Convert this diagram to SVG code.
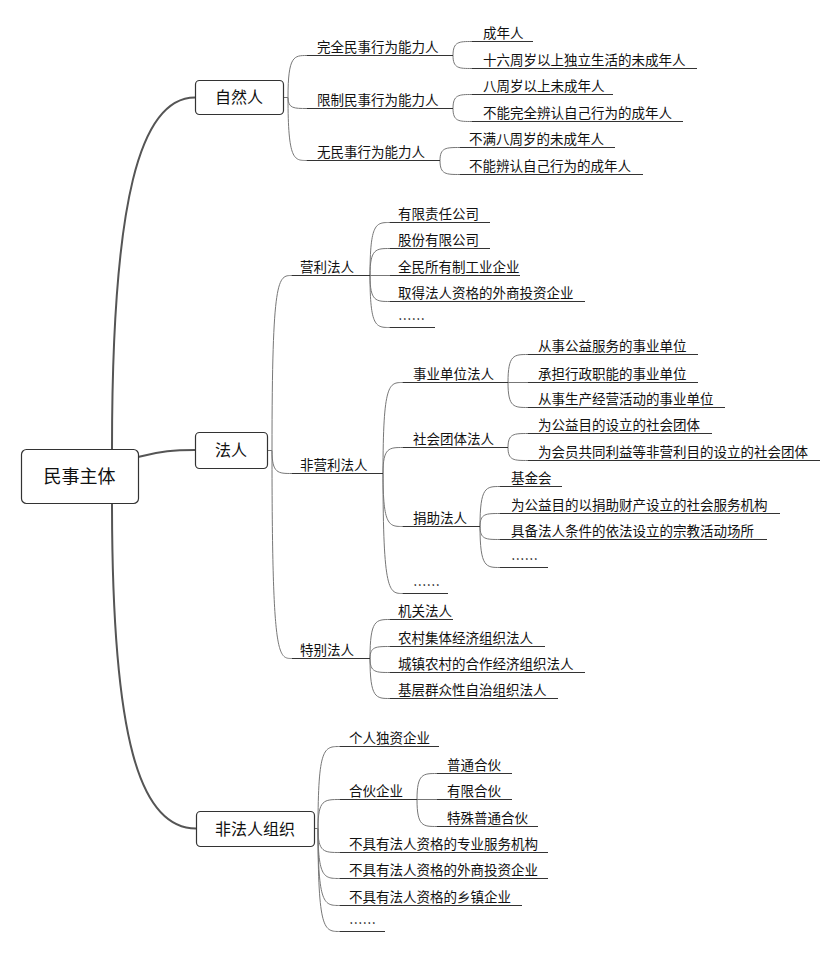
<svg xmlns="http://www.w3.org/2000/svg" width="840" height="953" viewBox="0 0 840 953">
<style>
.bg{fill:#fff}
.box{fill:#fff;stroke:#333;stroke-width:1.2}
.t{font-family:"Noto Sans CJK SC","Noto Sans",sans-serif;font-size:13.5px;fill:#111}
.tb{font-family:"Noto Sans CJK SC","Noto Sans",sans-serif;font-size:16px;fill:#111;text-anchor:middle}
.tr{font-size:18px}
.ul{stroke:#333;stroke-width:1;fill:none}
.c{fill:none;stroke:#777;stroke-width:1}
.m{fill:none;stroke:#555;stroke-width:2}
</style>
<rect class="bg" x="0" y="0" width="840" height="953"/>
<g id="connectors">
<path class="m" d="M112,449 C112,200 140,97.5 195,97.5"/>
<path class="m" d="M138,457 C160,451 175,450 195,450"/>
<path class="m" d="M112,503 C112,740 140,828.5 196,828.5"/>
<path class="c" d="M283,97.5 H288 M288,97.5 C288,55.5 294,55.5 307,55.5 M288,97.5 C288,108.5 294,108.5 307,108.5 M288,97.5 C288,160.5 294,160.5 307,160.5"/>
<path class="c" d="M453,55.5 C453,41.5 459,41.5 472,41.5 M453,55.5 C453,68.5 459,68.5 472,68.5"/>
<path class="c" d="M453,108.5 C453,94.5 459,94.5 472,94.5 M453,108.5 C453,121.5 459,121.5 472,121.5"/>
<path class="c" d="M440,160.5 C440,147.5 446,147.5 460,147.5 M440,160.5 C440,174.5 446,174.5 460,174.5"/>
<path class="c" d="M267,450.5 H272 M272,450.5 C272,275.5 278,275.5 292,275.5 M272,450.5 C272,473.5 278,473.5 292,473.5 M272,450.5 C272,658.5 278,658.5 292,658.5"/>
<path class="c" d="M370,275.5 C370,222.5 376,222.5 390,222.5 M370,275.5 C370,248.5 376,248.5 390,248.5 M370,275.5 H390 M370,275.5 C370,301.5 376,301.5 390,301.5 M370,275.5 C370,327.5 376,327.5 390,327.5"/>
<path class="c" d="M383,473.5 C383,382.5 389,382.5 403,382.5 M383,473.5 C383,447.5 389,447.5 403,447.5 M383,473.5 C383,526.5 389,526.5 403,526.5 M383,473.5 C383,593.5 389,593.5 403,593.5"/>
<path class="c" d="M508,382.5 C508,354.5 514,354.5 528,354.5 M508,382.5 H528 M508,382.5 C508,407.5 514,407.5 528,407.5"/>
<path class="c" d="M508,447.5 C508,433.5 514,433.5 528,433.5 M508,447.5 C508,460.5 514,460.5 528,460.5"/>
<path class="c" d="M480,526.5 C480,486.5 486,486.5 500,486.5 M480,526.5 C480,513.5 486,513.5 500,513.5 M480,526.5 C480,539.5 486,539.5 500,539.5 M480,526.5 C480,567.5 486,567.5 500,567.5"/>
<path class="c" d="M370,658.5 C370,619.5 376,619.5 390,619.5 M370,658.5 C370,646.5 376,646.5 390,646.5 M370,658.5 C370,672.5 376,672.5 390,672.5 M370,658.5 C370,698.5 376,698.5 390,698.5"/>
<path class="c" d="M314,828.5 H318 M318,828.5 C318,746.5 324,746.5 340,746.5 M318,828.5 C318,799.5 324,799.5 340,799.5 M318,828.5 C318,852.5 324,852.5 340,852.5 M318,828.5 C318,878.5 324,878.5 340,878.5 M318,828.5 C318,905.5 324,905.5 340,905.5 M318,828.5 C318,931.5 324,931.5 340,931.5"/>
<path class="c" d="M417,799.5 C417,773.5 423,773.5 437,773.5 M417,799.5 H437 M417,799.5 C417,826.5 423,826.5 437,826.5"/>
</g>
<g id="n-root"><rect class="box" x="21.5" y="449.5" width="117" height="54" rx="5"/><text class="tb tr" x="79.5" y="482.5">民事主体</text></g>
<g id="n-ziran"><rect class="box" x="195.5" y="80.5" width="88" height="34" rx="4"/><text class="tb" x="239" y="103">自然人</text></g>
<g id="n-faren"><rect class="box" x="195.5" y="432.5" width="72" height="36" rx="4"/><text class="tb" x="231" y="456">法人</text></g>
<g id="n-feifaren"><rect class="box" x="196.5" y="811.5" width="118" height="35" rx="4"/><text class="tb" x="255" y="834.5">非法人组织</text></g>

<g id="n-wanquan"><line class="ul" x1="307" y1="55.5" x2="453" y2="55.5"/><text class="t" x="317" y="51.5">完全民事行为能力人</text></g>
<g id="n-xianzhi"><line class="ul" x1="307" y1="108.5" x2="453" y2="108.5"/><text class="t" x="317" y="104.5">限制民事行为能力人</text></g>
<g id="n-wu"><line class="ul" x1="307" y1="160.5" x2="440" y2="160.5"/><text class="t" x="317" y="156.5">无民事行为能力人</text></g>
<g id="n-chengnian"><line class="ul" x1="472" y1="41.5" x2="533" y2="41.5"/><text class="t" x="483" y="37.5">成年人</text></g>
<g id="n-shiliu"><line class="ul" x1="472" y1="68.5" x2="697" y2="68.5"/><text class="t" x="483" y="64.5">十六周岁以上独立生活的未成年人</text></g>
<g id="n-bazhou"><line class="ul" x1="472" y1="94.5" x2="613" y2="94.5"/><text class="t" x="483" y="90.5">八周岁以上未成年人</text></g>
<g id="n-bunengwanquan"><line class="ul" x1="472" y1="121.5" x2="683" y2="121.5"/><text class="t" x="483" y="117.5">不能完全辨认自己行为的成年人</text></g>
<g id="n-buman"><line class="ul" x1="460" y1="147.5" x2="615" y2="147.5"/><text class="t" x="469" y="143.5">不满八周岁的未成年人</text></g>
<g id="n-buneng"><line class="ul" x1="460" y1="174.5" x2="643" y2="174.5"/><text class="t" x="469" y="170.5">不能辨认自己行为的成年人</text></g>

<g id="n-yingli"><line class="ul" x1="292" y1="275.5" x2="370" y2="275.5"/><text class="t" x="300" y="271.5">营利法人</text></g>
<g id="n-feiyingli"><line class="ul" x1="292" y1="473.5" x2="383" y2="473.5"/><text class="t" x="300" y="469.5">非营利法人</text></g>
<g id="n-tebie"><line class="ul" x1="292" y1="658.5" x2="370" y2="658.5"/><text class="t" x="300" y="654.5">特别法人</text></g>

<g id="n-youxian"><line class="ul" x1="390" y1="222.5" x2="490" y2="222.5"/><text class="t" x="398" y="218.5">有限责任公司</text></g>
<g id="n-gufen"><line class="ul" x1="390" y1="248.5" x2="490" y2="248.5"/><text class="t" x="398" y="244.5">股份有限公司</text></g>
<g id="n-quanmin"><line class="ul" x1="390" y1="275.5" x2="520" y2="275.5"/><text class="t" x="398" y="271.5">全民所有制工业企业</text></g>
<g id="n-waishang1"><line class="ul" x1="390" y1="301.5" x2="585" y2="301.5"/><text class="t" x="398" y="297.5">取得法人资格的外商投资企业</text></g>
<g id="n-etc1"><line class="ul" x1="390" y1="327.5" x2="435" y2="327.5"/><text class="t" x="398" y="323.5">……</text></g>

<g id="n-shiye"><line class="ul" x1="403" y1="382.5" x2="508" y2="382.5"/><text class="t" x="413" y="378.5">事业单位法人</text></g>
<g id="n-shehui"><line class="ul" x1="403" y1="447.5" x2="508" y2="447.5"/><text class="t" x="413" y="443.5">社会团体法人</text></g>
<g id="n-juanzhu"><line class="ul" x1="403" y1="526.5" x2="480" y2="526.5"/><text class="t" x="413" y="522.5">捐助法人</text></g>
<g id="n-etc2"><line class="ul" x1="403" y1="593.5" x2="448" y2="593.5"/><text class="t" x="413" y="589.5">……</text></g>

<g id="n-gongyi"><line class="ul" x1="528" y1="354.5" x2="698" y2="354.5"/><text class="t" x="538" y="350.5">从事公益服务的事业单位</text></g>
<g id="n-xingzheng"><line class="ul" x1="528" y1="382.5" x2="698" y2="382.5"/><text class="t" x="538" y="378.5">承担行政职能的事业单位</text></g>
<g id="n-shengchan"><line class="ul" x1="528" y1="407.5" x2="725" y2="407.5"/><text class="t" x="538" y="403.5">从事生产经营活动的事业单位</text></g>
<g id="n-gongyituanti"><line class="ul" x1="528" y1="433.5" x2="712" y2="433.5"/><text class="t" x="538" y="429.5">为公益目的设立的社会团体</text></g>
<g id="n-huiyuan"><line class="ul" x1="528" y1="460.5" x2="820" y2="460.5"/><text class="t" x="538" y="456.5">为会员共同利益等非营利目的设立的社会团体</text></g>

<g id="n-jijinhui"><line class="ul" x1="500" y1="486.5" x2="562" y2="486.5"/><text class="t" x="511" y="482.5">基金会</text></g>
<g id="n-fuwujigou"><line class="ul" x1="500" y1="513.5" x2="780" y2="513.5"/><text class="t" x="511" y="509.5">为公益目的以捐助财产设立的社会服务机构</text></g>
<g id="n-zongjiao"><line class="ul" x1="500" y1="539.5" x2="767" y2="539.5"/><text class="t" x="511" y="535.5">具备法人条件的依法设立的宗教活动场所</text></g>
<g id="n-etc3"><line class="ul" x1="500" y1="567.5" x2="548" y2="567.5"/><text class="t" x="511" y="563.5">……</text></g>

<g id="n-jiguan"><line class="ul" x1="390" y1="619.5" x2="453" y2="619.5"/><text class="t" x="398" y="615.5">机关法人</text></g>
<g id="n-nongcun"><line class="ul" x1="390" y1="646.5" x2="545" y2="646.5"/><text class="t" x="398" y="642.5">农村集体经济组织法人</text></g>
<g id="n-chengzhen"><line class="ul" x1="390" y1="672.5" x2="585" y2="672.5"/><text class="t" x="398" y="668.5">城镇农村的合作经济组织法人</text></g>
<g id="n-jiceng"><line class="ul" x1="390" y1="698.5" x2="558" y2="698.5"/><text class="t" x="398" y="694.5">基层群众性自治组织法人</text></g>

<g id="n-geren"><line class="ul" x1="340" y1="746.5" x2="439" y2="746.5"/><text class="t" x="349" y="742.5">个人独资企业</text></g>
<g id="n-hehuo"><line class="ul" x1="340" y1="799.5" x2="417" y2="799.5"/><text class="t" x="349" y="795.5">合伙企业</text></g>
<g id="n-zhuanye"><line class="ul" x1="340" y1="852.5" x2="548" y2="852.5"/><text class="t" x="349" y="848.5">不具有法人资格的专业服务机构</text></g>
<g id="n-waishang2"><line class="ul" x1="340" y1="878.5" x2="548" y2="878.5"/><text class="t" x="349" y="874.5">不具有法人资格的外商投资企业</text></g>
<g id="n-xiangzhen"><line class="ul" x1="340" y1="905.5" x2="522" y2="905.5"/><text class="t" x="349" y="901.5">不具有法人资格的乡镇企业</text></g>
<g id="n-etc4"><line class="ul" x1="340" y1="931.5" x2="385" y2="931.5"/><text class="t" x="349" y="927.5">……</text></g>

<g id="n-putong"><line class="ul" x1="437" y1="773.5" x2="512" y2="773.5"/><text class="t" x="447" y="769.5">普通合伙</text></g>
<g id="n-youxianhehuo"><line class="ul" x1="437" y1="799.5" x2="512" y2="799.5"/><text class="t" x="447" y="795.5">有限合伙</text></g>
<g id="n-teshu"><line class="ul" x1="437" y1="826.5" x2="538" y2="826.5"/><text class="t" x="447" y="822.5">特殊普通合伙</text></g>
</svg>
